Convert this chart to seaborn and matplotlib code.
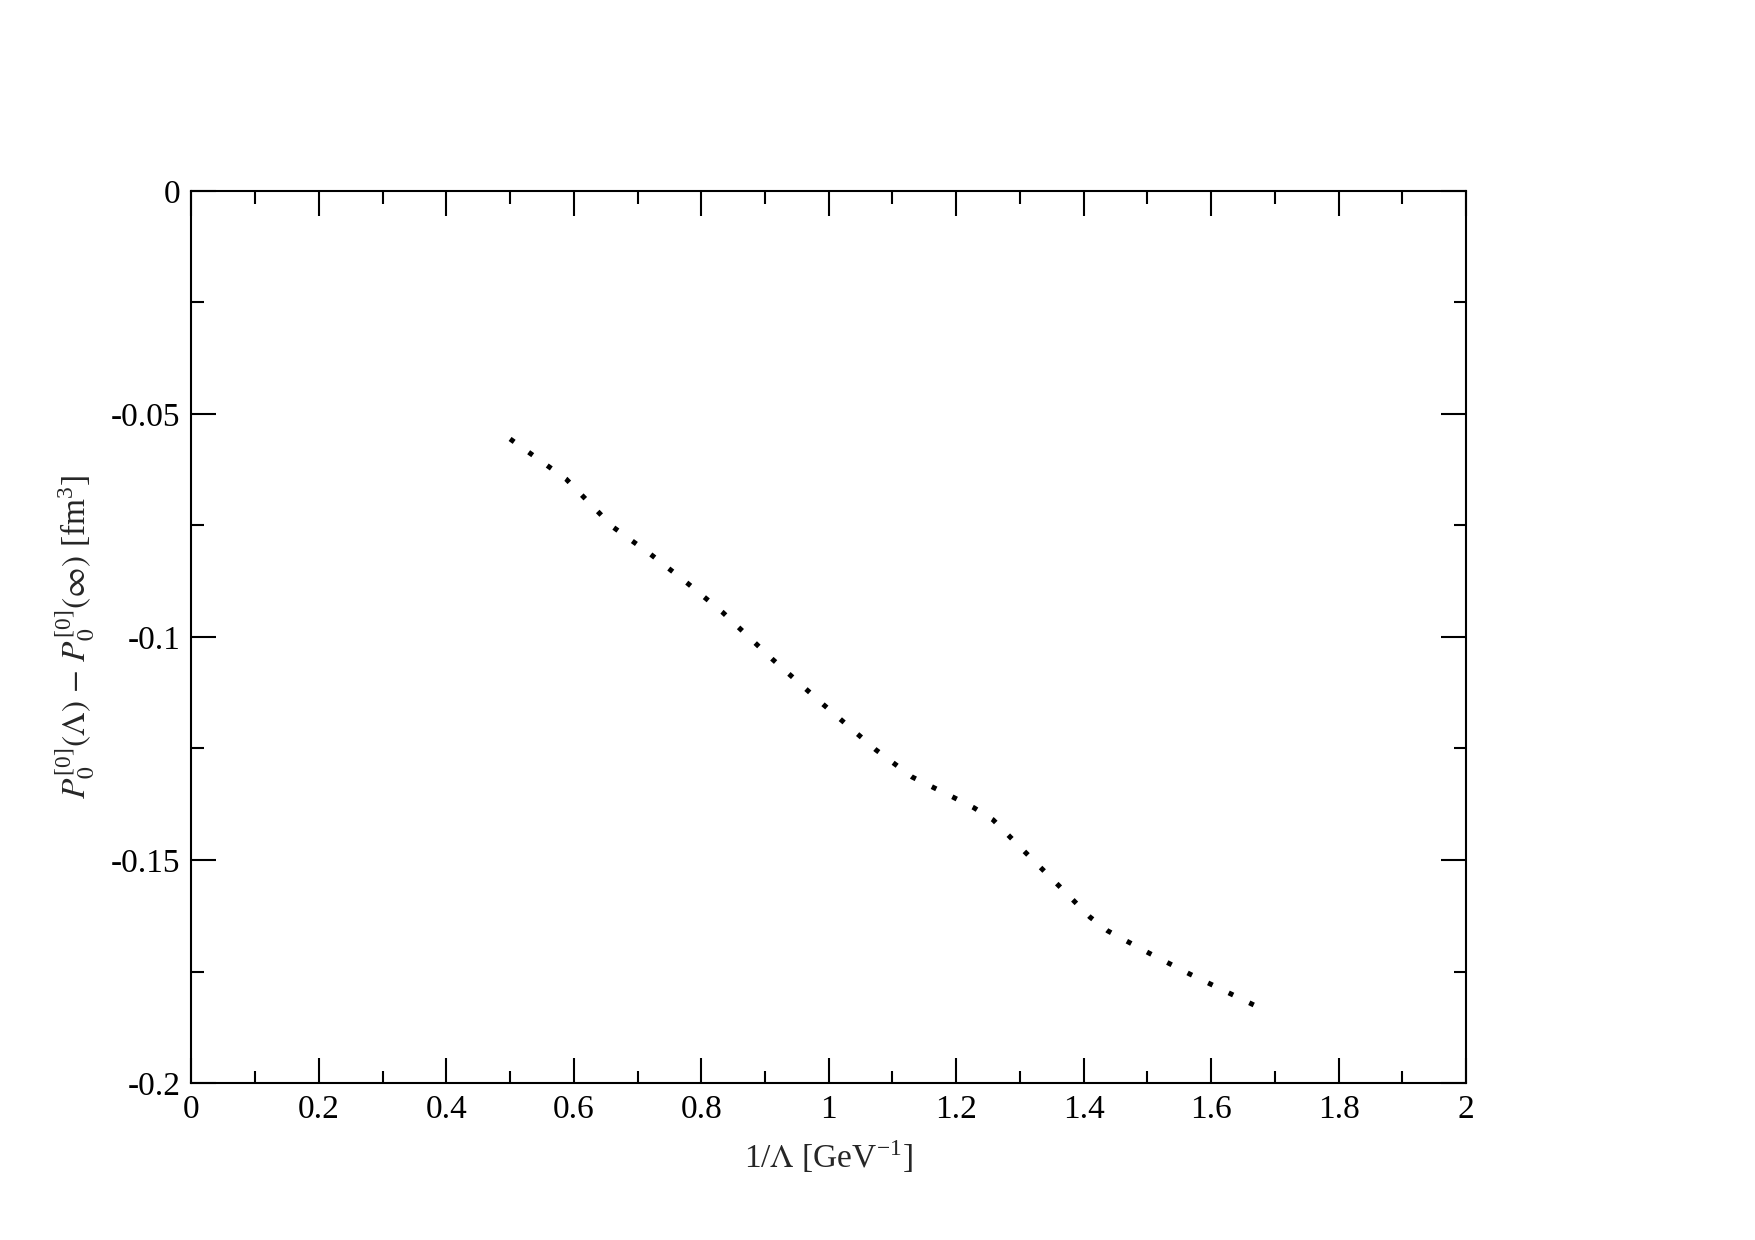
import numpy as np
import pandas as pd
import matplotlib
matplotlib.use("Agg")
import matplotlib.pyplot as plt
import seaborn as sns
from matplotlib.ticker import MultipleLocator, FuncFormatter

# Data
inv_lambda = [0.500, 0.588, 0.661, 0.720, 0.778, 0.833, 0.911, 0.992, 1.074, 1.131,
              1.195, 1.228, 1.258, 1.308, 1.360, 1.410, 1.438, 1.503, 1.567, 1.667]
delta_p = [-0.0556, -0.0646, -0.0753, -0.0814, -0.0879, -0.0944, -0.1049, -0.1152,
           -0.1253, -0.1314, -0.1359, -0.1383, -0.1410, -0.1482, -0.1556, -0.1628,
           -0.1659, -0.1709, -0.1756, -0.1825]

x_ticks = [0, 0.2, 0.4, 0.6, 0.8, 1, 1.2, 1.4, 1.6, 1.8, 2]
y_ticks = [0, -0.05, -0.1, -0.15, -0.2]

sns.set_theme(style="ticks")
plt.rcParams['font.family'] = ['Liberation Serif', 'DejaVu Serif']
plt.rcParams['mathtext.fontset'] = 'stix'
plt.rcParams['axes.unicode_minus'] = False

df = pd.DataFrame({"x": inv_lambda, "y": delta_p})

DPI = 100
fig = plt.figure(figsize=(17.55, 12.40), dpi=DPI)
ax = fig.add_axes([0.1091, 0.1266, 0.8353 - 0.1091, 0.846 - 0.1266])

LW = 3.6
sns.lineplot(data=df, x="x", y="y", ax=ax, color="black", linewidth=LW,
             estimator=None, sort=False)

ax.set_xlim(0, 2)
ax.set_ylim(-0.2, 0)

# adjust dotted pattern so that a dot falls on both ends of the curve
line = ax.get_lines()[0]
pts = ax.transData.transform(np.column_stack([inv_lambda, delta_p]))
L_pt = np.sum(np.hypot(np.diff(pts[:, 0]), np.diff(pts[:, 1]))) * 72.0 / DPI
on = 1.0 * LW
period0 = 4.6 * LW
n = max(1, round((L_pt - on) / period0))
period = (L_pt - on) / n
off = period - on
line.set_linestyle((0, (on / LW, off / LW)))
line.set_dash_capstyle("butt")

ax.set_xticks(x_ticks)
ax.set_yticks(y_ticks)
ax.xaxis.set_minor_locator(MultipleLocator(0.1))
ax.yaxis.set_minor_locator(MultipleLocator(0.025))
fmt = FuncFormatter(lambda v, p: ("%g" % v) if abs(v) > 1e-12 else "0")
ax.xaxis.set_major_formatter(fmt)
ax.yaxis.set_major_formatter(fmt)

ax.tick_params(which="both", direction="in", top=True, right=True, width=1.5,
               colors="black", labelsize=24)
ax.tick_params(which="major", length=18, pad=8)
ax.tick_params(which="minor", length=9)
for s in ax.spines.values():
    s.set_linewidth(1.5)
    s.set_color("black")
    s.set_visible(True)

ax.set_xlabel(r"1/$\Lambda$ [GeV$^{\mathregular{-1}}$]", fontsize=24, labelpad=10)
ax.set_ylabel(r"$P_0^{\mathregular{[0]}}(\Lambda)$ $-$ $P_0^{\mathregular{[0]}}(\infty)$ [fm$^{\mathregular{3}}$]",
              fontsize=24, labelpad=10)

fig.savefig("out.png", dpi=DPI, facecolor="white")
